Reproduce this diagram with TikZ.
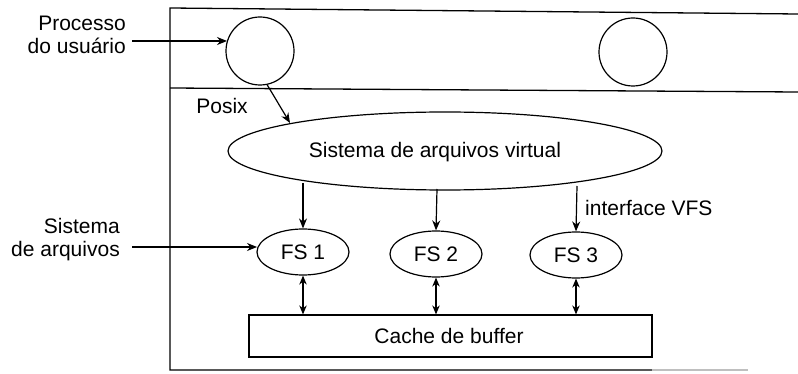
\documentclass[tikz,border=0pt]{standalone}
\usepackage{fontspec}
\setmainfont{Liberation Sans}
\usetikzlibrary{arrows.meta,shapes.geometric}
\begin{document}
\begin{tikzpicture}[x=1pt,y=-1pt,
  every node/.style={font=\fontsize{21}{23}\selectfont},
  line/.style={line width=1.3pt},
  arr/.style={line width=1.2pt,-{Stealth[length=10pt,width=8pt]}},
  darr/.style={line width=1.2pt,{Stealth[length=9pt,width=7.5pt]}-{Stealth[length=9pt,width=7.5pt]}},
  proc/.style={circle,draw,line width=1.2pt,minimum size=68pt,inner sep=0pt},
  fs/.style={ellipse,draw,line width=1.2pt,minimum width=92pt,minimum height=46pt,inner sep=0pt},
  lbl/.style={align=right,inner sep=0pt}]
\useasboundingbox (0,0) rectangle (798,374);
% outer frame
\coordinate (tl) at (170,8);
\coordinate (tr) at (798,14);
\coordinate (ml) at (170,88);
\coordinate (mr) at (798,92);
\coordinate (bl) at (170,370);
\coordinate (br) at (652,370);
\coordinate (bf) at (748,370);
\draw[line] (tr) -- (tl) -- (bl) -- (br);
\draw[line width=1.2pt,black!25] (br) -- (bf);
\draw[line] (ml) -- (mr);
% processes
\node[proc] (p1) at (260,51) {};
\node[proc] (p2) at (633,52) {};
% VFS
\node[ellipse,draw,line width=1.2pt,minimum width=434pt,minimum height=78pt,inner sep=0pt] (vfs) at (445,151) {};
\node (vfst) at (435,152) {Sistema de arquivos virtual};
% FS
\node[fs] (fs1) at (303,252) {FS 1};
\node[fs] (fs2) at (436,254) {FS 2};
\node[fs] (fs3) at (576,255) {FS 3};
% cache
\node[draw,line width=1.2pt,minimum width=403pt,minimum height=42pt,inner sep=0pt] (cache) at (450.5,336) {};
\node (cachet) at (449,336) {Cache de buffer};
% labels
\node[lbl,anchor=east] (lproc) at (126,35) {Processo\\do usuário};
\node[lbl,anchor=east] (lfs) at (120,240) {Sistema\\de arquivos};
\node[inner sep=0pt] (posix) at (222,106) {Posix};
\node[inner sep=0pt,anchor=west] (vfsi) at (585,208) {interface VFS};
% arrows
\coordinate (a1) at (132,41);
\coordinate (a1e) at (227,41);
\draw[arr] (a1) -- (a1e);
\coordinate (a2) at (132,247);
\coordinate (a2e) at (257,247);
\draw[arr] (a2) -- (a2e);
\coordinate (px) at (290,123);
\draw[arr] (p1.-78) -- (px);
\coordinate (v1) at (303,183);
\coordinate (v2) at (437,189);
\coordinate (v3) at (577,186);
\draw[arr] (v1) -- (fs1.north);
\draw[arr] (v2) -- (fs2.north);
\draw[arr] (v3) -- (fs3.north);
\draw[darr] (fs1.south) -- (fs1.south |- cache.north);
\draw[darr] (fs2.south) -- (fs2.south |- cache.north);
\draw[darr] (fs3.south) -- (fs3.south |- cache.north);
\end{tikzpicture}
\end{document}
